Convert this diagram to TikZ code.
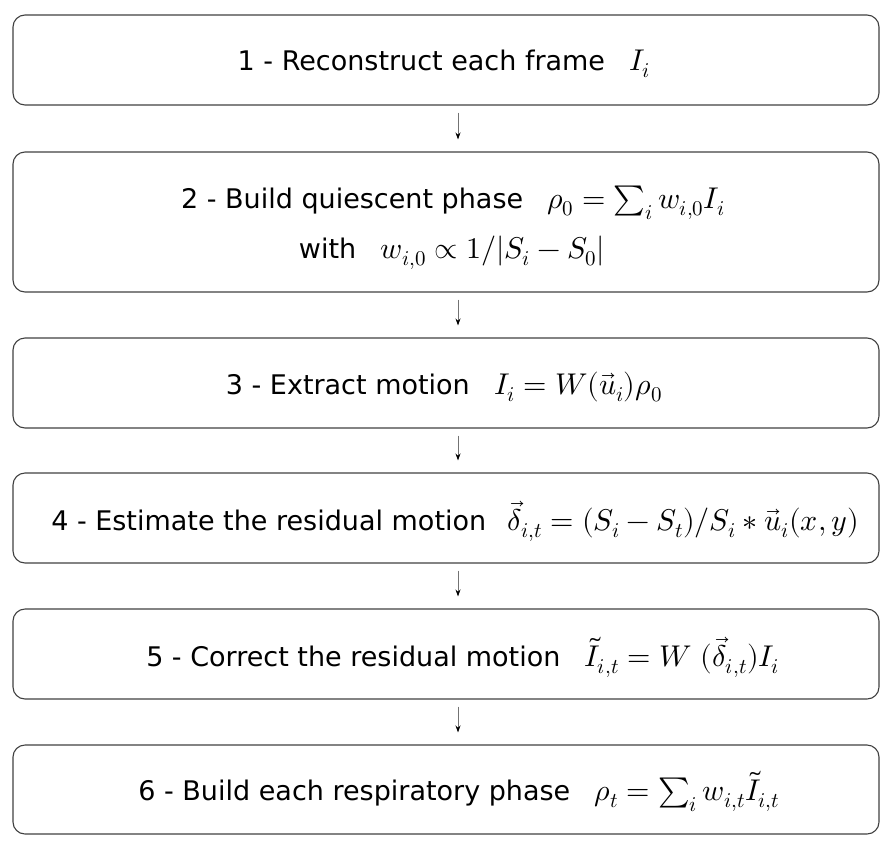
\documentclass[tikz,border=0pt]{standalone}
\usepackage{fontspec}
\usepackage{unicode-math}
\setmainfont{DejaVu Sans}
\setmathfont{Latin Modern Math}
\usetikzlibrary{arrows.meta}
\newcommand{\fm}[1]{{\fontsize{30}{36}\selectfont$#1$}}
\begin{document}
\begin{tikzpicture}[x=1pt,y=-1pt,
  box/.style={draw=black!75, line width=1.1pt, rounded corners=12pt, minimum width=866pt, inner sep=0pt},
  lbl/.style={font=\fontsize{27}{33}\selectfont, inner sep=0pt, anchor=base},
  flow/.style={draw=black!55, line width=0.9pt, -{Stealth[length=7pt,width=5pt,black]}}]
\useasboundingbox (0,0) rectangle (894,852);
\node[box, minimum height=90pt] (b1) at (446,60) {};
\node[box, minimum height=140pt] (b2) at (446,222) {};
\node[box, minimum height=90pt] (b3) at (446,383) {};
\node[box, minimum height=90pt] (b4) at (446,518) {};
\node[box, minimum height=90pt] (b5) at (446,654) {};
\node[box, minimum height=89pt] (b6) at (446,789.5) {};
\node[lbl] (t1) at (444,70) {1 - Reconstruct each frame\hspace{0.9em}\fm{I_i}};
\node[lbl] (t2a) at (453,208) {2 - Build quiescent phase\hspace{0.9em}\fm{\rho_0 = \sum_i w_{i,0} I_i}};
\node[lbl] (t2b) at (452,258) {with\hspace{0.9em}\fm{w_{i,0} \propto 1/|S_i - S_0|}};
\node[lbl] (t3) at (444,394) {3 - Extract motion\hspace{0.9em}\fm{I_i = W(\vec{u}_i)\rho_0}};
\node[lbl] (t4) at (455,530) {4 - Estimate the residual motion\hspace{0.8em}\fm{\vec{\delta}_{i,t} = (S_i - S_t)/S_i * \vec{u}_i(x,y)}};
\node[lbl] (t5) at (463,666) {5 - Correct the residual motion\hspace{0.9em}\fm{\tilde{I}_{i,t} = W\ (\vec{\delta}_{i,t}) I_i}};
\node[lbl] (t6) at (459,800) {6 - Build each respiratory phase\hspace{0.9em}\fm{\rho_t = \sum_i w_{i,t}\tilde{I}_{i,t}}};
\draw[flow] ([xshift=12pt,yshift=-7pt]b1.south) -- ([xshift=12pt,yshift=12pt]b2.north);
\draw[flow] ([xshift=12pt,yshift=-7pt]b2.south) -- ([xshift=12pt,yshift=12pt]b3.north);
\draw[flow] ([xshift=12pt,yshift=-7pt]b3.south) -- ([xshift=12pt,yshift=12pt]b4.north);
\draw[flow] ([xshift=12pt,yshift=-7pt]b4.south) -- ([xshift=12pt,yshift=12pt]b5.north);
\draw[flow] ([xshift=12pt,yshift=-7pt]b5.south) -- ([xshift=12pt,yshift=12pt]b6.north);
\end{tikzpicture}
\end{document}
